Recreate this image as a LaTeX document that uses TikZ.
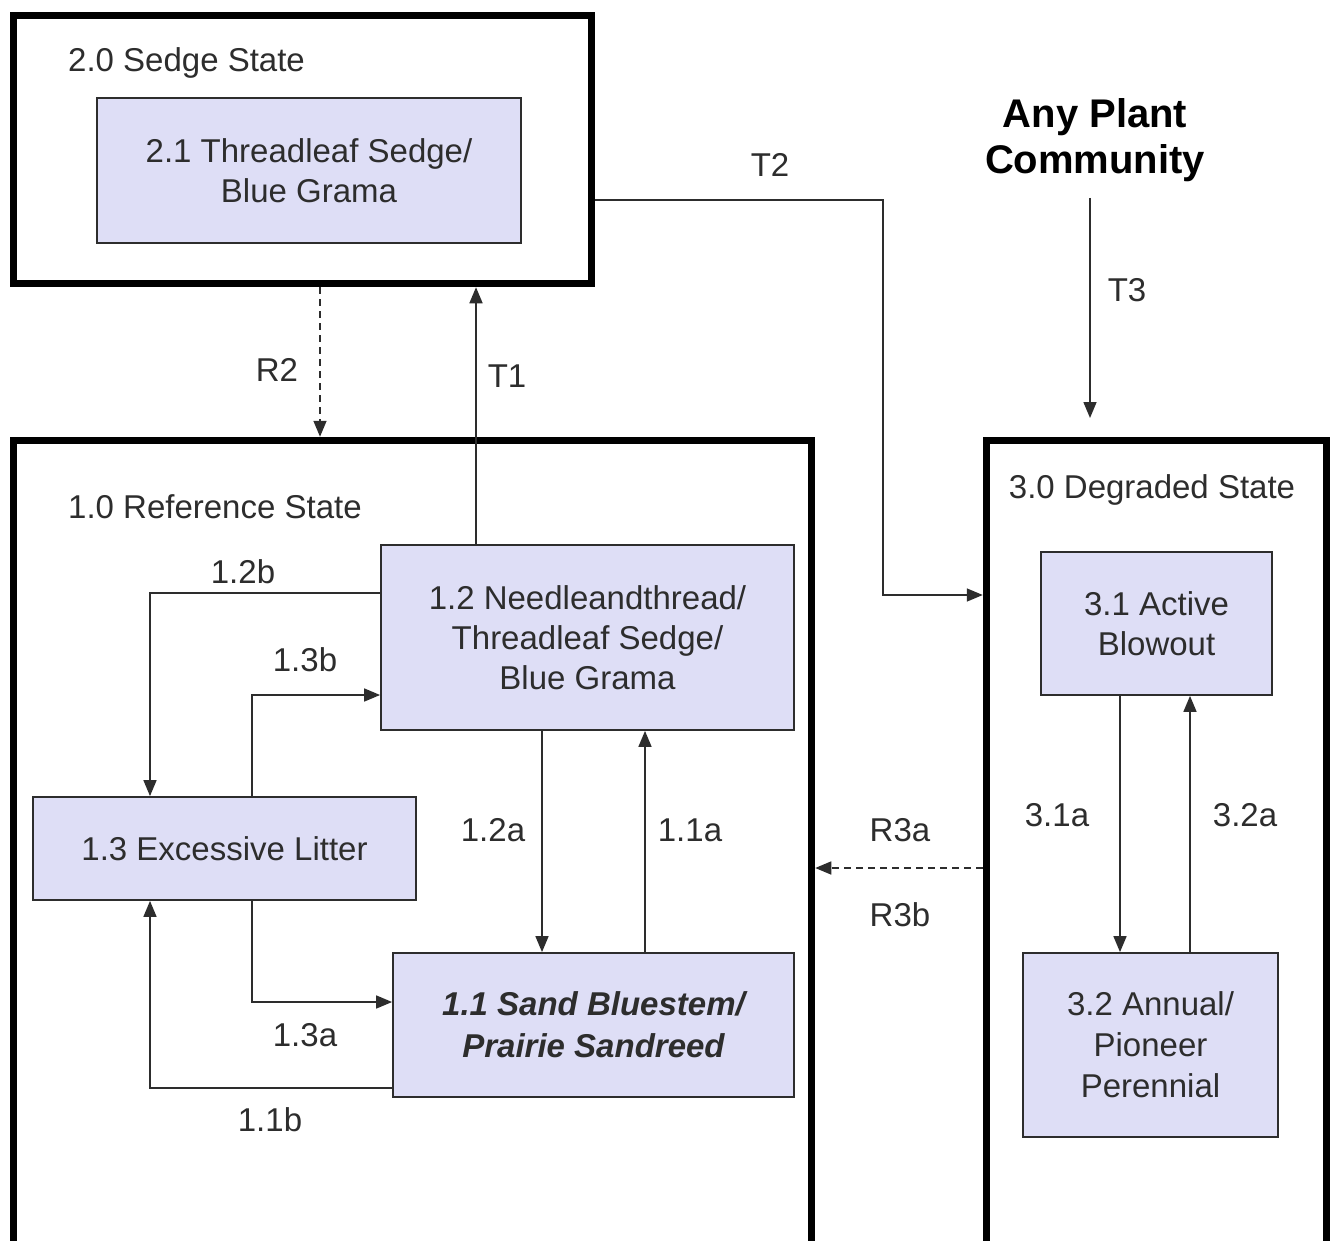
\documentclass[tikz,border=0pt]{standalone}
\usepackage{fontspec}
\setmainfont{Liberation Sans}
\usetikzlibrary{arrows.meta}
\definecolor{boxfill}{RGB}{222,222,246}
\definecolor{ink}{RGB}{45,45,45}
\begin{document}
\begin{tikzpicture}[x=1pt,y=-1pt,
  statebox/.style={draw=black, line width=7.5pt, inner sep=0pt},
  phase/.style={draw=ink, line width=1.8pt, fill=boxfill, text=ink, align=center, inner sep=0pt, font=\fontsize{33}{40}\selectfont},
  lbl/.style={text=ink, font=\fontsize{33}{40}\selectfont, inner sep=0pt},
  conn/.style={draw=ink, line width=1.6pt, -{Triangle[length=16pt,width=13pt]}},
  dconn/.style={conn, dash pattern=on 7pt off 5pt},
]
\clip (0,0) rectangle (1335,1241);
\fill[white] (0,0) rectangle (1335,1241);

% state boxes
\node[statebox, minimum width=578pt, minimum height=268pt] (s20) at (302.5,149.5) {};
\node[statebox, minimum width=798pt, minimum height=826pt] (s10) at (412.5,853.5) {};
\node[statebox, minimum width=340pt, minimum height=826pt] (s30) at (1156.5,853.5) {};

% state titles
\node[lbl, anchor=west] (t20) at (68,63) {2.0 Sedge State};
\node[lbl, anchor=west] (t10) at (68,507) {1.0 Reference State};
\node[lbl] (t30) at (1152,490) {3.0 Degraded State};

% phase boxes
\node[phase, minimum width=424pt, minimum height=145pt] (p21) at (309,170.5) {2.1 Threadleaf Sedge/\\Blue Grama};
\node[phase, minimum width=413pt, minimum height=185pt] (p12) at (587.5,637.5) {1.2 Needleandthread/\\Threadleaf Sedge/\\Blue Grama};
\node[phase, minimum width=383pt, minimum height=103pt] (p13) at (224.5,848.5) {1.3 Excessive Litter};
\node[phase, minimum width=401pt, minimum height=144pt, font=\fontsize{33}{42}\selectfont\bfseries\itshape] (p11) at (593.5,1025) {1.1 Sand Bluestem/\\Prairie Sandreed};
\node[phase, minimum width=231pt, minimum height=143pt] (p31) at (1156.5,623.5) {3.1 Active\\Blowout};
\node[phase, minimum width=255pt, minimum height=184pt, font=\fontsize{33}{41}\selectfont] (p32) at (1150.5,1045) {3.2 Annual/\\Pioneer\\Perennial};

% any plant community
\node[align=center, inner sep=0pt, font=\fontsize{40}{46}\selectfont\bfseries] (any) at (1095,140) {Any Plant\\Community};
\coordinate (t3s) at (1090,198);
\coordinate (t3e) at (1090,418);

% connectors
\draw[conn] (s20.east |- 0,200) -- (883,200) |- (s30.west |- 0,595);
\draw[conn] (t3s) -- (t3e);
\draw[conn] (p12.north -| 476,0) -- (s20.south -| 476,0);
\draw[dconn] (s20.south -| 320,0) -- (s10.north -| 320,0);
\draw[conn] (p12.west |- 0,593) -| (p13.north -| 150,0);
\draw[conn] (p13.north -| 252,0) |- (p12.west |- 0,695);
\draw[conn] (p13.south -| 252,0) |- (p11.west |- 0,1002);
\draw[conn] (p11.west |- 0,1088) -| (p13.south -| 150,0);
\draw[conn] (p12.south -| 542,0) -- (p11.north -| 542,0);
\draw[conn] (p11.north -| 645,0) -- (p12.south -| 645,0);
\draw[dconn] (s30.west |- 0,868) -- (s10.east |- 0,868);
\draw[conn] (p31.south -| 1120,0) -- (p32.north -| 1120,0);
\draw[conn] (p32.north -| 1190,0) -- (p31.south -| 1190,0);

% labels
\node[lbl] (lT2) at (770,165) {T2};
\node[lbl] (lT3) at (1127,290) {T3};
\node[lbl] (lT1) at (507,376) {T1};
\node[lbl] (lR2) at (277,370) {R2};
\node[lbl] (l12b) at (243,572) {1.2b};
\node[lbl] (l13b) at (305,660) {1.3b};
\node[lbl] (l13a) at (305,1035) {1.3a};
\node[lbl] (l11b) at (270,1120) {1.1b};
\node[lbl] (l12a) at (493,830) {1.2a};
\node[lbl] (l11a) at (690,830) {1.1a};
\node[lbl] (lR3a) at (900,830) {R3a};
\node[lbl] (lR3b) at (900,915) {R3b};
\node[lbl] (l31a) at (1057,815) {3.1a};
\node[lbl] (l32a) at (1245,815) {3.2a};
\end{tikzpicture}
\end{document}
